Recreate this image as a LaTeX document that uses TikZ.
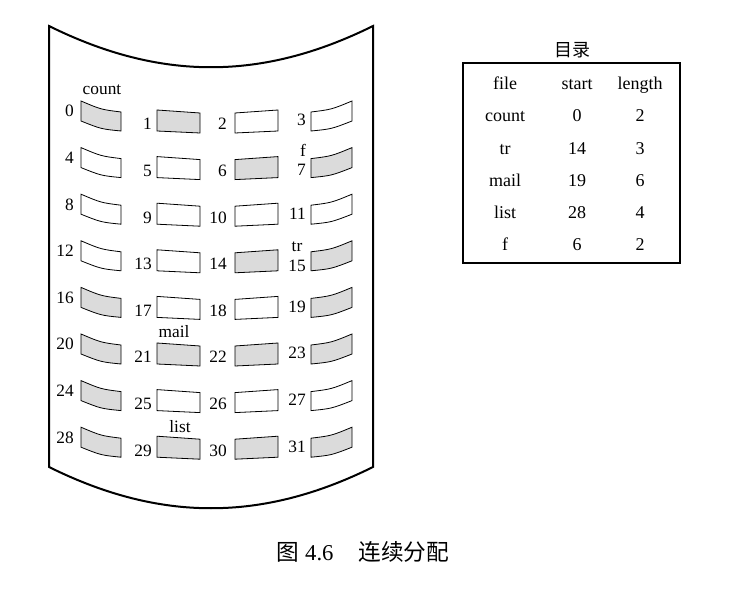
\documentclass[tikz,border=0pt]{standalone}
\usepackage{fontspec}
\setmainfont{Liberation Serif}
\newfontfamily\cjk{Noto Sans CJK SC}
\usepackage{tikz}

\colorlet{taken}{black!14}
\tikzset{
  drum/.style={line width=1.5pt},
  blk/.style={draw, line width=0.6pt},
  num/.style={inner sep=0pt, font=\fontsize{13}{15}\selectfont},
  tab/.style={inner sep=0pt, font=\fontsize{13.5}{16}\selectfont},
}

\begin{document}
\begin{tikzpicture}[x=0.75pt, y=-0.75pt]
\useasboundingbox (0,0) rectangle (746,598);
\draw[drum] (49,26) .. controls (160,81) and (262,81) .. (373,26) -- (373,467)
  .. controls (262,522) and (160,522) .. (49,467) -- cycle;

\foreach \rw/\fc/\nb in {0/taken/0,1/white/4,2/white/8,3/white/12,4/taken/16,5/taken/20,6/taken/24,7/taken/28} {
  \filldraw[blk, fill=\fc] (81,101+46.6*\rw) .. controls (101,109.5+46.6*\rw) .. (121,112+46.6*\rw)
    -- (121,131+46.6*\rw) .. controls (101,129+46.6*\rw) .. (81,121+46.6*\rw) -- cycle;
  \node[num, anchor=base east] (n\nb) at (74,117+46.6*\rw) {\nb};
}
\foreach \rw/\fc/\nb in {0/taken/1,1/white/5,2/white/9,3/white/13,4/white/17,5/taken/21,6/white/25,7/taken/29} {
  \filldraw[blk, fill=\fc] (157,110+46.6*\rw) -- (200,113+46.6*\rw) -- (200,133+46.6*\rw) -- (157,131+46.6*\rw) -- cycle;
  \node[num, anchor=base east] (n\nb) at (152,130+46.6*\rw) {\nb};
}
\foreach \rw/\fc/\nb in {0/white/2,1/taken/6,2/white/10,3/taken/14,4/white/18,5/taken/22,6/white/26,7/taken/30} {
  \filldraw[blk, fill=\fc] (235,113+46.6*\rw) -- (278,110+46.6*\rw) -- (278,131+46.6*\rw) -- (235,133+46.6*\rw) -- cycle;
  \node[num, anchor=base east] (n\nb) at (227,130+46.6*\rw) {\nb};
}
\foreach \rw/\fc/\nb/\bl in {0/white/3/126,1/taken/7/129,2/white/11/126,3/taken/15/132,4/taken/19/126,5/taken/23/126,6/white/27/126,7/taken/31/126} {
  \filldraw[blk, fill=\fc] (311,112+46.6*\rw) .. controls (331.5,109.5+46.6*\rw) .. (352,101+46.6*\rw)
    -- (352,121+46.6*\rw) .. controls (331.5,129+46.6*\rw) .. (311,131+46.6*\rw) -- cycle;
  \node[num, anchor=base east] (n\nb) at (306,\bl+46.6*\rw) {\nb};
}

\node[num, anchor=base] (lcount) at (102,95) {count};
\node[num, anchor=base] (lf) at (303,157) {f};
\node[num, anchor=base] (ltr) at (297,252) {tr};
\node[num, anchor=base] (lmail) at (174,338) {mail};
\node[num, anchor=base] (llist) at (180,432) {list};

\node[tab] (dir) at (572,50) {\cjk 目录};
\draw[line width=1.2pt] (463,63) rectangle (680,263);
\node[tab, anchor=base] (hfile) at (505,89.5) {file};
\node[tab, anchor=base] (hstart) at (577,89.5) {start};
\node[tab, anchor=base] (hlen) at (640,89.5) {length};
\foreach \fname/\fstart/\flen [count=\i] in {count/0/2,tr/14/3,mail/19/6,list/28/4,f/6/2} {
  \node[tab, anchor=base] (file\i) at (505,89.5+32.3*\i) {\fname};
  \node[tab, anchor=base] (start\i) at (577,89.5+32.3*\i) {\fstart};
  \node[tab, anchor=base] (len\i) at (640,89.5+32.3*\i) {\flen};
}

\node[inner sep=0pt, font=\fontsize{17}{20}\selectfont] (cap) at (363,552) {{\cjk 图}~4.6\hspace{1.1em}{\cjk 连续分配}};
\end{tikzpicture}
\end{document}
